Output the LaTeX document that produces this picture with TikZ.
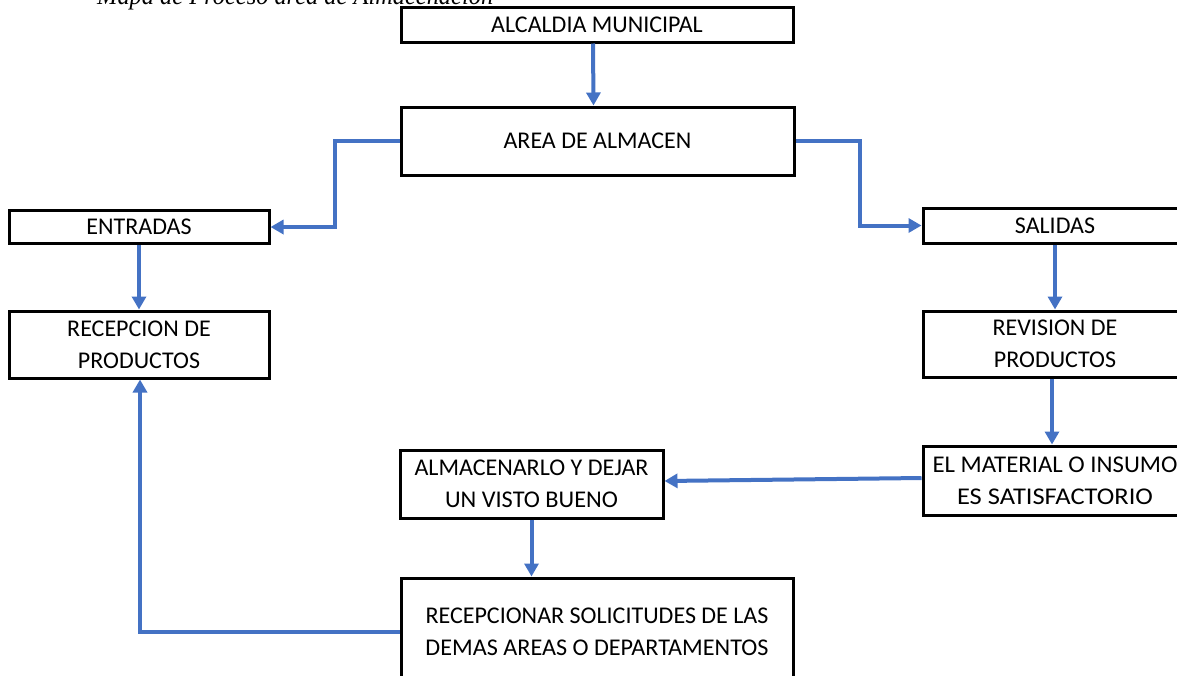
\documentclass[tikz,border=0pt]{standalone}
\usepackage{fontspec}
\usepackage{graphicx}
\setmainfont{Carlito}
\newfontfamily\titlefont{Liberation Serif}
\usetikzlibrary{arrows.meta}
\definecolor{arrowblue}{HTML}{4472C4}
\tikzset{
  box/.style={draw=black, line width=3pt, rectangle, inner sep=0pt, align=center,
              font=\fontsize{24}{32}\selectfont},
  arr/.style={draw=arrowblue, line width=4pt, -{Triangle[width=14pt,length=13pt]}},
}
\begin{document}
\begin{tikzpicture}[x=1pt,y=-1pt]
\useasboundingbox (0,0) rectangle (1177,675);
\clip (0,0) rectangle (1177,675);

\node[anchor=base west, inner sep=0pt, font=\titlefont\itshape\fontsize{26}{30}\selectfont] (title) at (97,4)
  {\resizebox{396pt}{\height}{Mapa de Proceso área de Almacenación}};

\node[box, minimum width=392pt, minimum height=35pt] (alc) at (597,24.5) {ALCALDIA MUNICIPAL};
\node[box, minimum width=393pt, minimum height=68pt] (area) at (597.5,141) {AREA DE ALMACEN};
\node[box, minimum width=260pt, minimum height=33pt] (entr) at (139,227) {ENTRADAS};
\node[box, minimum width=260pt, minimum height=67pt] (rec) at (139,344.5) {RECEPCION DE\\PRODUCTOS};
\node[box, minimum width=264pt, minimum height=35pt] (sal) at (1055,225.5) {SALIDAS};
\node[box, minimum width=264pt, minimum height=66pt] (rev) at (1055,344) {REVISION DE\\PRODUCTOS};
\node[box, minimum width=264pt, minimum height=69pt] (mat) at (1055,480.5)
  {\resizebox{245pt}{\height}{EL MATERIAL O INSUMO}\\\resizebox{196pt}{\height}{ES SATISFACTORIO}};
\node[box, minimum width=263pt, minimum height=68pt] (alm) at (531.5,484)
  {\resizebox{234pt}{\height}{ALMACENARLO Y DEJAR}\\\resizebox{173pt}{\height}{UN VISTO BUENO}};
\node[box, minimum width=392pt, minimum height=108pt] (recp) at (597,632)
  {\resizebox{343pt}{\height}{RECEPCIONAR SOLICITUDES DE LAS}\\\resizebox{343pt}{\height}{DEMAS AREAS O DEPARTAMENTOS}};

\draw[arr] ([xshift=-4pt]alc.south) -- ([xshift=-4pt]area.north);
\draw[arr] (area.west) -- ++(-65,0) |- (entr.east);
\draw[arr] (area.east) -- ++(64,0) |- (sal.west);
\draw[arr] (entr.south) -- (rec.north);
\draw[arr] (sal.south) -- (rev.north);
\draw[arr] ([xshift=-3pt]rev.south) -- ([xshift=-3pt]mat.north);
\draw[arr] ([yshift=2.5pt]mat.west) -- ([yshift=3pt]alm.east);
\draw[arr] (alm.south) -- (alm.south |- recp.north);
\draw[arr] (recp.west) -| ([xshift=1pt]rec.south);
\end{tikzpicture}
\end{document}
